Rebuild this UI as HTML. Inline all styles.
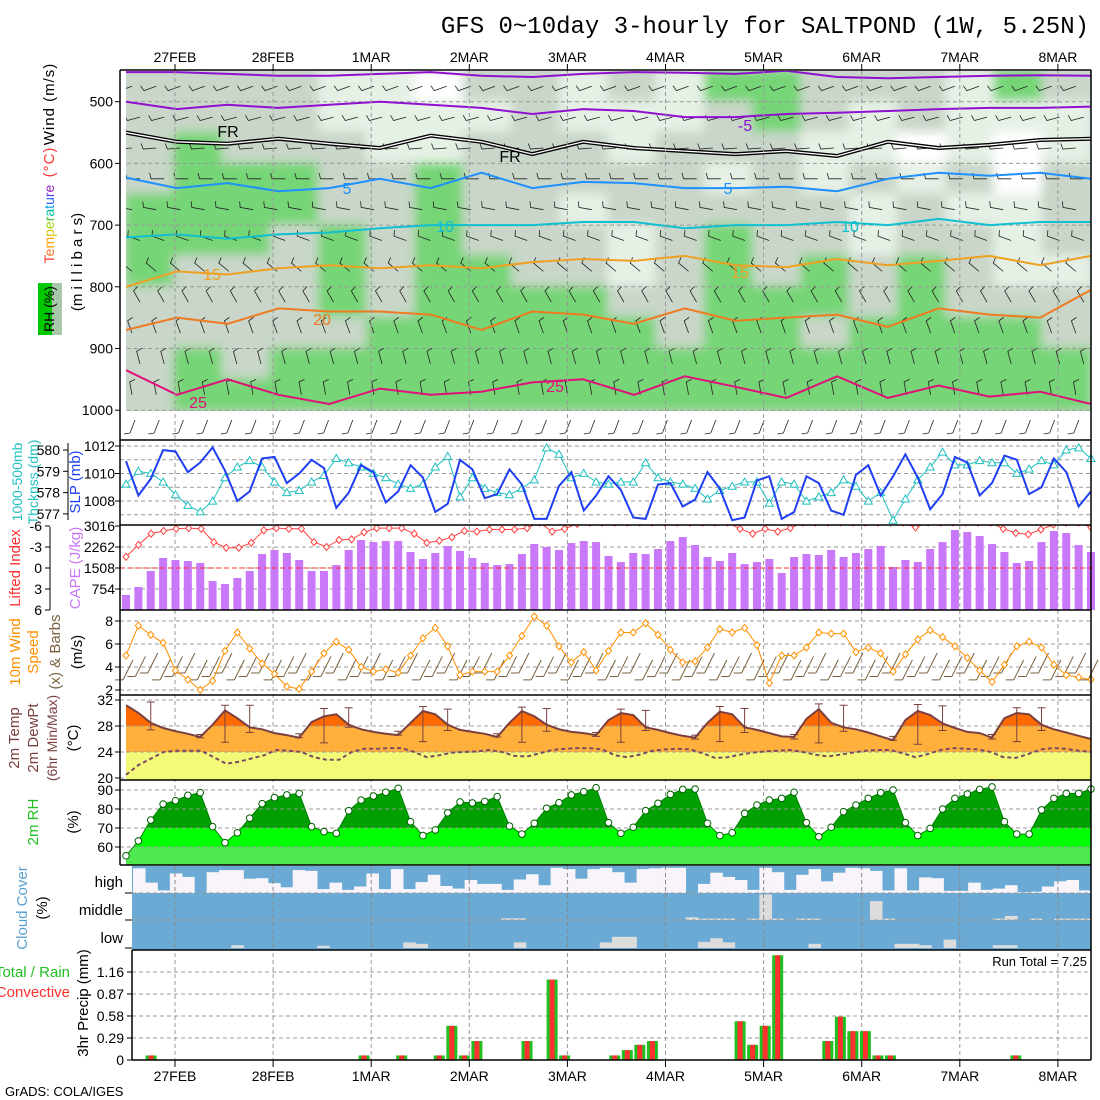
<!DOCTYPE html>
<html><head><meta charset="utf-8"><style>
html,body{margin:0;padding:0;background:#fff;}
svg{display:block;font-family:"Liberation Sans",sans-serif;}
</style></head><body>
<svg id="c" width="1100" height="1100" viewBox="0 0 1100 1100" xmlns="http://www.w3.org/2000/svg">
<defs id="defs">
<clipPath id="topClip"><rect x="126" y="71" width="965" height="340"/></clipPath>
<clipPath id="liClip"><rect x="120" y="525" width="971" height="85"/></clipPath>
<filter id="blur" x="-5%" y="-5%" width="110%" height="110%"><feGaussianBlur stdDeviation="5"/></filter>
</defs>
<rect width="1100" height="1100" fill="#fff"/>
<text x="1089" y="33" text-anchor="end" font-family="Liberation Mono, monospace" font-size="24">GFS 0~10day 3-hourly for SALTPOND (1W, 5.25N)</text>
<g id="g"></g>
</svg>
<script>
// ---------- data ----------
const dateLabels=["27FEB","28FEB","1MAR","2MAR","3MAR","4MAR","5MAR","6MAR","7MAR","8MAR"];
const pressTicks=[500,600,700,800,900,1000];
const rhLevels=[475,525,575,625,675,725,775,825,875,925,975];
const rhGrid=[
[2,2,2,2,1,1,0,2,2,1,2,1,3,3,2,2,2,1,3,2],
[2,2,2,2,1,1,1,1,2,1,1,1,2,3,2,1,2,1,1,1],
[2,3,2,2,2,1,1,2,2,2,1,2,2,2,1,1,0,1,0,1],
[2,3,3,3,2,2,3,2,2,2,2,2,1,2,1,2,1,2,0,2],
[3,3,3,3,2,2,3,2,2,1,2,2,2,2,2,1,2,1,1,2],
[3,3,3,2,3,2,3,2,2,2,1,2,3,2,2,1,2,2,1,2],
[3,2,2,2,3,2,3,3,2,2,1,2,3,2,3,2,3,2,1,1],
[2,2,2,2,3,2,3,3,3,3,2,2,3,3,3,2,3,2,2,2],
[2,2,2,2,2,3,3,3,3,3,3,2,3,3,2,3,3,3,3,2],
[2,3,2,3,3,3,3,3,3,3,3,3,3,3,3,3,3,3,3,3],
[2,3,3,3,3,3,3,3,3,3,3,3,3,3,3,3,3,3,3,3]];
const isoM10=[452,452,455,458,458,455,452,458,460,455,452,453,455,450,460,462,460,458,457,458];
const isoM5=[500,512,505,510,505,500,505,510,520,512,515,525,525,520,518,515,512,510,510,508];
const iso0=[550,565,568,560,568,575,555,565,585,565,575,580,585,580,588,565,575,570,562,560];
const iso5=[623,640,632,645,640,625,640,615,640,630,632,640,640,638,645,625,615,620,615,625];
const iso10=[720,715,722,715,712,705,700,700,700,695,695,705,700,700,695,700,690,700,695,695];
const iso15=[800,775,780,770,765,770,765,770,760,755,758,750,765,768,755,765,758,750,765,750];
const iso20=[870,850,860,835,840,840,845,870,840,845,860,835,855,850,845,865,835,845,850,805];
const iso25=[935,975,950,975,990,965,975,970,955,950,975,945,962,980,945,980,960,978,970,990];
const slp=[1010.9,1008.4,1009.6,1011.7,1011.6,1010.1,1010.8,1011.9,1010.2,1008.0,1008.7,1011.1,1011.2,1009.3,1010.0,1011.0,1010.4,1007.5,1008.6,1010.6,1010.1,1007.9,1008.7,
1010.6,1009.7,1007.2,1007.8,1011.0,1010.3,1008.2,1008.5,1010.3,1009.2,1006.7,1006.7,1009.1,1010.1,1007.3,1008.4,1009.8,1008.8,1006.8,1006.7,1009.2,1009.3,1007.6,1008.1,1010.1,1008.9,1006.6,1006.8,1009.5,1009.8,1006.7,1007.2,1009.8,1009.3,1007.3,1007.0,1009.9,1010.6,1008.4,1009.8,1011.4,1009.7,1007.4,1008.5,1011.2,1010.8,1008.4,1009.3,1011.3,1011.0,1008.5,1009.0,1011.1,1010.1,1007.6,1008.7];
const thick=[578.4,579.0,578.9,578.5,577.9,577.4,577.1,577.6,578.7,579.2,579.5,579.2,578.5,578.0,578.1,578.5,578.8,579.6,579.4,579.2,578.9,578.7,578.4,
578.2,578.4,579.2,579.7,577.8,578.7,578.2,578.0,577.9,578.2,578.6,580.1,579.8,578.7,578.9,578.5,578.4,578.5,578.5,579.4,578.7,578.5,578.4,578.2,577.7,578.1,578.3,578.5,578.5,577.5,578.5,578.4,577.6,577.8,578.0,578.6,578.3,577.6,578.0,576.7,577.7,578.6,579.2,579.9,579.3,579.3,579.5,579.4,579.4,578.9,579.1,579.5,579.3,580.0,580.1,579.6];
const cape=[538,826,1400,1867,1795,1760,1690,1040,934,1150,1400,2010,2155,2047,1795,1400,1400,1616,2155,2513,2440,2480,2480,
2083,1830,2047,2300,2120,1867,1690,1616,1650,2010,2370,2262,2155,2405,2477,2440,1940,1723,2047,2010,2190,2477,2620,2333,1903,1760,2047,1650,1723,1830,1330,1903,2010,1975,2155,1903,2047,2190,2300,1544,1795,1723,2190,2440,2872,2800,2655,2370,2083,1690,1760,2440,2836,2765,2333,2083];
const liftedIdx=[-1.6,-3.3,-4.9,-5.3,-5.6,-5.7,-5.6,-3.7,-2.9,-2.9,-3.6,-5.4,-5.7,-5.6,-5.6,-3.7,-3.0,-4.0,-4.1,-5.1,-5.7,-5.7,-5.7,
-4.9,-3.6,-3.9,-4.4,-5.3,-5.2,-5.5,-5.5,-5.5,-5.7,-6.5,-5.2,-5.6,-6.3,-6.5,-6.5,-6.5,-6.5,-6.5,-6.5,-6.5,-6.5,-6.5,-6.5,-6.5,-6.5,-5.6,-4.9,-5.6,-5.2,-5.7,-6.5,-6.5,-6.5,-6.5,-6.5,-6.5,-6.5,-6.5,-6.5,-5.8,-6.5,-6.5,-6.5,-6.5,-6.5,-6.5,-5.6,-5.0,-4.8,-5.5,-6.2,-6.5,-6.5,-5.8];
const wspd=[5.0,7.6,6.8,6.1,3.7,2.9,2.0,2.8,5.4,7.0,5.6,4.3,3.4,2.3,2.1,3.6,5.2,6.2,5.5,4.0,3.6,3.8,3.5,
5.0,6.5,7.4,5.8,3.3,3.6,3.6,3.6,5.0,6.7,8.4,7.6,5.8,4.4,5.3,3.7,5.4,7.0,7.0,7.8,6.8,5.5,4.4,4.5,5.7,7.3,7.0,7.4,5.9,2.6,5.0,5.0,5.7,7.0,6.9,6.9,5.3,5.7,5.2,3.6,5.1,6.4,7.2,6.6,5.8,4.8,3.7,2.7,4.2,5.8,6.2,5.7,4.2,3.3,3.1,2.9];
const temp2m=[31.2,30.0,28.5,27.7,27.2,26.8,26.3,28.2,30.4,29.2,27.8,27.5,26.9,26.6,26.2,28.6,29.5,29.8,28.2,27.5,27.1,26.8,26.6,
28.5,30.3,29.8,28.2,27.4,27.1,26.8,26.3,28.5,30.3,29.5,28.2,27.5,27.1,26.9,26.6,28.9,30.0,29.7,27.8,27.4,26.9,26.5,26.2,28.5,30.2,29.8,27.8,27.4,26.9,26.4,26.3,29.1,30.6,28.5,27.8,27.5,27.0,26.4,25.8,28.9,30.3,29.7,28.4,27.7,27.1,26.9,26.2,29.2,30.0,29.8,28.2,27.5,27.0,26.5,26.0];
const dewpt=[20.5,22,23,24,24.2,24.2,24.2,23.2,22.2,22.5,23,23.5,24.3,24.2,24,23.2,22.8,22.8,24,24.5,24.5,24.6,24.6,
24,23.2,23.5,23.9,24,24.1,24.3,24.0,23.4,23.3,23.8,24.3,24.5,24.6,24.6,24.4,23.5,23.2,23.6,24.2,24.4,24.5,24.4,23.8,23.1,23.2,23.6,23.9,24.1,24.2,24.3,24.0,23.6,23.3,23.6,23.9,24.2,24.3,24.3,23.8,23.2,23.7,24.3,24.6,24.5,24.4,24.0,23.2,23.1,23.7,24.4,24.6,24.5,24.2,24.0];
const errIdx=[2,6,8,10,14,16,18,22,24,26,30,32,34,38,40,42,46,48,50,54,56,58,62,64,66,70,72,74];
const errHi=[31.7,26.7,31.2,31.2,26.8,30.7,30.8,27.2,31.0,30.6,26.8,30.9,30.7,27.0,30.6,30.4,26.6,31.0,30.7,26.7,31.4,31.2,26.4,31.3,31.1,26.7,30.8,30.8];
const errLo=[27.4,26.2,25.5,27.0,26.2,25.4,27.8,26.6,25.6,27.3,26.3,25.5,27.2,26.4,25.5,27.3,26.0,25.6,27.0,26.0,25.4,27.2,25.8,25.2,27.3,26.0,25.6,27.3];
const rh2m=[55.4,63.2,74.2,82.6,84.4,87.2,88.6,70.7,62.3,67.5,75.2,82.8,86,87.4,88.2,70.7,68.1,67.2,79.1,84.7,86.8,88.8,90.9,
73.3,66,69,78,83.7,83.2,84,86.5,71,66.8,72.5,80.4,83.3,87.4,89.1,91.2,72.8,67.2,70.4,79.1,83,87.7,90.3,90.5,72.5,66,67.5,77.7,82.1,84.7,85.6,88.8,72.8,65.4,70.4,78.6,82.1,85.6,88.6,90,72.8,66,69.8,80,85.6,87.9,90.3,91.6,73.3,66.8,66.8,79.5,85.6,88.2,88.2,90.5];
const cloudHigh=[95,40,10,75,62,0,80,88,88,55,57,38,22,88,85,15,40,12,25,75,15,92,
15,42,70,27,17,50,35,35,12,52,72,30,97,92,55,92,97,80,40,92,95,97,97,0,35,78,62,50,12,97,80,12,70,92,45,78,97,95,85,10,95,10,60,57,8,8,40,12,17,30,3,5,25,45,50,10];
const cloudMid=[0,0,0,0,0,0,0,0,0,0,0,0,0,0,0,0,0,0,0,0,0,0,0,0,0,0,0,0,0,0,6,6,0,0,0,0,0,0,0,0,0,0,0,0,0,10,5,5,5,0,5,95,5,0,5,5,0,0,0,0,70,5,0,0,0,0,0,0,0,0,5,15,0,5,0,5,5,5];
const cloudLow=[0,0,0,0,0,0,0,0,10,0,0,0,0,0,0,8,0,0,0,0,0,0,20,15,0,0,0,0,0,0,0,20,0,0,0,0,0,0,20,40,40,0,0,0,0,0,22,35,20,0,0,0,0,0,0,15,0,0,0,0,0,0,15,15,10,0,30,0,0,0,10,10,0,0,0,0,0,0];
const precip=[0,0,0.06,0,0,0,0,0,0,0,0,0,0,0,0,0,0,0,0,0.06,0,0,0.06,0,0,0.06,0.45,0.06,0.25,0,0,0,0.25,0,1.06,0.06,0,0,0,0.06,0.13,0.2,0.25,0,0,0,0,0,0,0.51,0.2,0.45,1.38,0,0,0,0.25,0.57,0.38,0.38,0.06,0.06,0,0,0,0,0,0,0,0,0,0.06,0,0,0,0,0,0];
const slpTicks=[1012,1010,1008];
const thickTicks=[580,579,578,577];
const capeTicks=[3016,2262,1508,754];
const liTicks=[-6,-3,0,3,6];
const windTicks=[8,6,4,2];
const tempTicks=[32,28,24,20];
const rhTicks=[90,80,70,60];
const precipTicks=[1.16,0.87,0.58,0.29,0];
const barbRowAngle=[200,195,185,180,170,160,140,120,110,105,100,100];

// ---------- helpers ----------
const NS="http://www.w3.org/2000/svg";
const G=document.getElementById('g');
const DEFS=document.getElementById('defs');
function el(tag,attrs,parent){const e=document.createElementNS(NS,tag);for(const k in attrs)e.setAttribute(k,attrs[k]);(parent||G).appendChild(e);return e;}
const XL=126,XR=1091;
function X(i,n){return XL+i*(XR-XL)/(n-1);}
const yP=p=>101.7+(p-500)*0.617;
const ySLP=v=>446+(1012-v)*13.75;
const yThk=v=>450+(580-v)*21.3;
const yCAPE=v=>610-v/3016*84;
const yLI=v=>568+v*7;
const yW=v=>621+(8-v)*11.5;
const yT=v=>700+(32-v)*6.5;
const yRH=v=>790+(90-v)*1.9;
const yPr=v=>1060-v*75.9;
const dayX=k=>175+k*98.1;
function pathOf(arr,fy){return arr.map((v,i)=>(i?'L':'M')+X(i,arr.length).toFixed(1)+','+fy(v).toFixed(1)).join('');}
function txt(s,x,y,attrs,parent){const t=el('text',Object.assign({x:x,y:y},attrs||{}),parent);t.textContent=s;return t;}
function rtxt(s,x,y,attrs,parent){const t=el('text',Object.assign({x:0,y:0,transform:'translate('+x+','+y+') rotate(-90)','text-anchor':'middle'},attrs||{}),parent);t.textContent=s;return t;}

// ---------- top panel ----------
const topG=el('g',{'clip-path':'url(#topClip)'});


const rhCol=['#ffffff','#e6f1e6','#c9d6c9','#76d576'];
const blurG=el('g',{filter:'url(#blur)'},topG);
el('rect',{x:100,y:60,width:1020,height:370,fill:'#c9d6c9'},blurG);
const nc=rhGrid[0].length, cw=(XR-XL)/nc;
rhGrid.forEach((row,r)=>{row.forEach((v,c)=>{
  const y0=yP(rhLevels[r]-25), y1=yP(rhLevels[r]+25);
  const rc=el('rect',{x:XL+c*cw-1,y:y0-1,width:cw+2,height:y1-y0+2,fill:rhCol[v]},blurG);
  
  
});});
pressTicks.forEach(p=>{el('line',{x1:120,x2:XR,y1:yP(p),y2:yP(p),stroke:'#999','stroke-dasharray':'4,3','stroke-width':1},topG);});
for(let r=0;r<barbRowAngle.length;r++){
  const p=475+r*50; if(p>1000)break;
  const y=yP(p);
  for(let c=0;c<40;c++){
    const x=132+c*24.2+(r%2)*8;
    const a=barbRowAngle[r]*Math.PI/180;
    const dx=Math.cos(a)*13, dy=-Math.sin(a)*13;
    const b=el('path',{d:'M'+x+','+y+'l'+dx.toFixed(1)+','+dy.toFixed(1)+'l'+(Math.cos(a-1.3)*6).toFixed(1)+','+(-Math.sin(a-1.3)*6).toFixed(1),stroke:'#222',fill:'none','stroke-width':0.8},topG);
    
    
  }
}
function iso(arr,color,w,name){
  const d=arr.map((v,i)=>(i?'L':'M')+X(i,arr.length).toFixed(1)+','+yP(v).toFixed(1)).join('');
  const p=el('path',{d:d,stroke:color,'stroke-width':w,fill:'none'},topG);
  
  
  return d;
}
iso(isoM10,'#9010d0',2,'isotherm-minus10');
iso(isoM5,'#9010d0',2,'isotherm-minus5');
const d0=iso(iso0,'#000',4,'freezing-level');
el('path',{d:d0,stroke:'#fff','stroke-width':1.3,fill:'none'},topG);
iso(iso5,'#1e90ff',2,'isotherm-5');
iso(iso10,'#10c0d0',2,'isotherm-10');
iso(iso15,'#f0a020',2,'isotherm-15');
iso(iso20,'#f07a20',2,'isotherm-20');
iso(iso25,'#e0107a',2,'isotherm-25');
[['-5',745,131,'#9010d0'],['FR',228,137,'#000'],['FR',510,162,'#000'],['5',347,194,'#1e90ff'],['5',728,194,'#1e90ff'],['10',445,232,'#10c0d0'],['10',850,232,'#10c0d0'],['15',212,280,'#f0a020'],['15',740,278,'#f0a020'],['20',322,325,'#f07a20'],['25',198,408,'#e0107a'],['25',555,392,'#e0107a']].forEach(l=>{
  const t=txt(l[0],l[1],l[2],{fill:l[3],'font-size':16,'text-anchor':'middle'},topG);
  
  
});
for(let c=0;c<40;c++){
  const x=130+c*24.2, y=425;
  el('path',{d:'M'+x+','+(y+8)+'l5,-13 M'+x+','+(y+8)+'l-6,1',stroke:'#222','stroke-width':0.8,fill:'none'});
}

// ---------- vertical day lines ----------
dateLabels.forEach((d,k)=>{
  const x=dayX(k);
  el('line',{x1:x,x2:x,y1:71,y2:1060,stroke:'#999','stroke-dasharray':'4,3'});
  el('line',{x1:x,x2:x,y1:64,y2:71,stroke:'#000'});
  el('line',{x1:x,x2:x,y1:1060,y2:1067,stroke:'#000'});
  const t1=txt(d,x,62,{'text-anchor':'middle','font-size':14});
  
  
  const t2=txt(d,x,1081,{'text-anchor':'middle','font-size':14});
  
  
});
function hgrid(vals,fy){vals.forEach(v=>el('line',{x1:120,x2:XR,y1:fy(v),y2:fy(v),stroke:'#999','stroke-dasharray':'4,3'}));}
hgrid(slpTicks,ySLP);hgrid([1011,1009,1007],ySLP);
hgrid([2262,1508,754],yCAPE);
hgrid(windTicks,yW);
hgrid(tempTicks,yT);
hgrid(rhTicks,yRH);
precipTicks.forEach(v=>{if(v>0)el('line',{x1:132,x2:XR,y1:yPr(v),y2:yPr(v),stroke:'#999','stroke-dasharray':'4,3'});});

// ---------- SLP / thickness ----------
const thkP=el('path',{d:pathOf(thick,yThk),stroke:'#20c0c0','stroke-width':1,fill:'none'});


thick.forEach((v,i)=>{const x=X(i,thick.length),y=yThk(v);
  const m=el('path',{d:'M'+x+','+(y-4)+'L'+(x+4)+','+(y+3)+'L'+(x-4)+','+(y+3)+'Z',fill:'#fff',stroke:'#20c0c0'});
  
  });
const slpP=el('path',{d:pathOf(slp,ySLP),stroke:'#1f3ff0','stroke-width':2,fill:'none'});



// ---------- CAPE / LI ----------
cape.forEach((v,i)=>{const x=X(i,cape.length);
  const b=el('rect',{x:x-4,y:yCAPE(v),width:8,height:610-yCAPE(v),fill:'#c878f8'});
  
  });
el('line',{x1:120,x2:XR,y1:568,y2:568,stroke:'#ff3030','stroke-dasharray':'5,3'});
const liG=el('g',{'clip-path':'url(#liClip)'});
const liP=el('path',{d:pathOf(liftedIdx,yLI),stroke:'#ff4040','stroke-width':1,fill:'none'},liG);


liftedIdx.forEach((v,i)=>{const x=X(i,liftedIdx.length),y=yLI(v);
  const m=el('path',{d:'M'+x+','+(y-3.5)+'l3,3.5l-3,3.5l-3,-3.5Z',fill:'#fff',stroke:'#ff4040'},liG);
  
  });

// ---------- 10m wind ----------
wspd.forEach((v,i)=>{const x=X(i,wspd.length);
  const y=yW(3.4+(i%3)*0.3);
  const b=el('path',{d:'M'+(x-3)+','+(y+6)+'l10,-20 M'+(x-3)+','+(y+6)+'l-8,0',stroke:'#7a6040','stroke-width':1,fill:'none'});
  
  });
const wP=el('path',{d:pathOf(wspd,yW),stroke:'#ff9000','stroke-width':1,fill:'none'});


wspd.forEach((v,i)=>{const x=X(i,wspd.length),y=yW(v);
  const m=el('path',{d:'M'+x+','+(y-3.5)+'l3,3.5l-3,3.5l-3,-3.5Z',fill:'#fff',stroke:'#ff9000'});
  
  });

// ---------- temperature ----------
const tArea=pathOf(temp2m,yT)+'L'+XR+',780L'+XL+',780Z';
const tClip=el('clipPath',{id:'tClip'},DEFS);
el('path',{d:tArea},tClip);
const tg=el('g',{'clip-path':'url(#tClip)'});


el('rect',{x:XL,y:695,width:XR-XL,height:yT(28)-695,fill:'#ff6a00'},tg);
el('rect',{x:XL,y:yT(28),width:XR-XL,height:yT(24)-yT(28),fill:'#ffb03c'},tg);
el('rect',{x:XL,y:yT(24),width:XR-XL,height:780-yT(24),fill:'#f2fa78'},tg);
[28,24].forEach(v=>el('line',{x1:XL,x2:XR,y1:yT(v),y2:yT(v),stroke:'#999','stroke-dasharray':'4,3'},tg));
const tP=el('path',{d:pathOf(temp2m,yT),stroke:'#7a4040','stroke-width':2,fill:'none'});


const dP=el('path',{d:pathOf(dewpt,yT),stroke:'#7a4a60','stroke-width':2,'stroke-dasharray':'4,3',fill:'none'});


errIdx.forEach((ix,k)=>{const x=XL+ix*(XR-XL)/(temp2m.length-1);
  const e=el('path',{d:'M'+x+','+yT(errHi[k])+'V'+yT(errLo[k])+'M'+(x-4)+','+yT(errHi[k])+'h8M'+(x-4)+','+yT(errLo[k])+'h8',stroke:'#7a4040','stroke-width':1,fill:'none'});
  
  });

// ---------- RH ----------
const rhArea=pathOf(rh2m,yRH)+'L'+XR+',865L'+XL+',865Z';
const rcl=el('clipPath',{id:'rhClip'},DEFS);
el('path',{d:rhArea},rcl);
const rg=el('g',{'clip-path':'url(#rhClip)'});


el('rect',{x:XL,y:780,width:XR-XL,height:yRH(70)-780,fill:'#00a000'},rg);
el('rect',{x:XL,y:yRH(70),width:XR-XL,height:yRH(60)-yRH(70),fill:'#00ff00'},rg);
el('rect',{x:XL,y:yRH(60),width:XR-XL,height:865-yRH(60),fill:'#50e850'},rg);
[80,70,60].forEach(v=>el('line',{x1:XL,x2:XR,y1:yRH(v),y2:yRH(v),stroke:'#999','stroke-dasharray':'4,3'},rg));
el('path',{d:pathOf(rh2m,yRH),stroke:'#008000','stroke-width':1,fill:'none'});
rh2m.forEach((v,i)=>{const c=el('circle',{cx:X(i,rh2m.length),cy:yRH(v),r:3.3,fill:'#fff',stroke:'#006000','stroke-width':1});
  
  });

// ---------- cloud ----------
const cl=el('g',{});


el('rect',{x:132,y:866,width:XR-132,height:84,fill:'#6aaad4'},cl);
const ccw=(XR-133)/cloudHigh.length;
function cloudRow(arr,yTop,yBot,color,name){arr.forEach((v,i)=>{if(v<=0)return;const h=(yBot-yTop)*v/100;
  const r=el('rect',{x:133+i*ccw,y:yBot-h,width:ccw+0.3,height:h,fill:color},cl);
  
  });}
cloudRow(cloudHigh,867,893,'#f8f4fa','cloud-high-bar');
cloudRow(cloudMid,893,920,'#dcdcdc','cloud-mid-bar');
cloudRow(cloudLow,920,948,'#dcdcdc','cloud-low-bar');
[893,920].forEach(y=>el('line',{x1:132,x2:XR,y1:y,y2:y,stroke:'#999','stroke-dasharray':'4,3'}));
[893,920,948].forEach(y=>el('line',{x1:125,x2:132,y1:y,y2:y,stroke:'#000'}));
dateLabels.forEach((d,k)=>el('line',{x1:dayX(k),x2:dayX(k),y1:866,y2:950,stroke:'#888','stroke-dasharray':'4,3'}));

// ---------- precip ----------
precip.forEach((v,i)=>{if(v<=0)return;const x=X(i,precip.length);
  const g=el('rect',{x:x-5.5,y:yPr(v),width:11,height:1060-yPr(v),fill:'#20c020'});
  
  
  const r=el('rect',{x:x-2.5,y:yPr(v),width:5,height:1060-yPr(v),fill:'#ff3030'});
  
  });
txt('Run Total = 7.25',1087,966,{'text-anchor':'end','font-size':13});

// ---------- frames ----------
const fr='#000';
[70,440,525,610,695,780,865].forEach(y=>el('line',{x1:120,x2:XR,y1:y,y2:y,stroke:fr,'stroke-width':1.5}));
el('line',{x1:132,x2:XR,y1:950,y2:950,stroke:fr,'stroke-width':1.5});
el('line',{x1:132,x2:XR,y1:1060,y2:1060,stroke:fr,'stroke-width':1.5});
el('line',{x1:120,x2:120,y1:70,y2:865,stroke:fr,'stroke-width':1.5});
el('line',{x1:132,x2:132,y1:950,y2:1060,stroke:fr,'stroke-width':1.5});
el('line',{x1:XR,x2:XR,y1:70,y2:1060,stroke:fr,'stroke-width':1.5});

// ---------- axis ticks/labels ----------
function ticks(vals,fy,xr,color,xline){vals.forEach(v=>{const y=fy(v);
  el('line',{x1:xline-5,x2:xline,y1:y,y2:y,stroke:'#000'});
  const t=txt(String(v),xr,y+5,{'text-anchor':'end','font-size':14,fill:color});
  
  });}
ticks(pressTicks,yP,113,'#000',120);
ticks(slpTicks,ySLP,115,'#000',120);
el('line',{x1:68,x2:68,y1:443,y2:520,stroke:'#000'});
ticks(thickTicks,yThk,60,'#000',68);
ticks(capeTicks,yCAPE,115,'#000',120);
el('line',{x1:50,x2:50,y1:527,y2:610,stroke:'#000'});
ticks(liTicks,yLI,42,'#000',50);
ticks(windTicks,yW,113,'#000',120);
ticks(tempTicks,yT,113,'#000',120);
ticks(rhTicks,yRH,113,'#000',120);
ticks(precipTicks,yPr,124,'#000',132);
txt('high',123,887,{'text-anchor':'end','font-size':15});
txt('middle',123,915,{'text-anchor':'end','font-size':15});
txt('low',123,943,{'text-anchor':'end','font-size':15});

// ---------- rotated axis titles ----------
const fs={'font-size':15,'letter-spacing':'1'};
rtxt('Wind (m/s)',54,104,Object.assign({fill:'#000'},fs));
rtxt('(°C)',54,162,Object.assign({fill:'#ff3030'},fs));
const tt=rtxt('',54,224,{'font-size':14});
const tcols=['#ff3030','#ff7020','#ffa000','#d8c800','#a0d000','#40c040','#00c0a0','#00a0e0','#2060ff','#6040e0','#9020c0'];
'Temperature'.split('').forEach((ch,k)=>{const s=document.createElementNS(NS,'tspan');s.setAttribute('fill',tcols[k]);s.textContent=ch;tt.appendChild(s);});
el('rect',{x:38,y:283,width:14,height:52,fill:'#00c800'});
el('rect',{x:52,y:283,width:10,height:52,fill:'#a8c8a8'});
rtxt('RH (%)',54,309,{'font-size':14,fill:'#000'});
rtxt('(m i l l i b a r s)',82,262,{'font-size':15});
rtxt('1000-500mb',22,482,{'font-size':14,fill:'#20c0c0'});
rtxt('Thcknss (dm)',38,482,{'font-size':14,fill:'#20c0c0'});
rtxt('SLP (mb)',80,482,{'font-size':15,fill:'#1f3ff0'});
rtxt('Lifted Index',20,568,{'font-size':15,fill:'#ff3030'});
rtxt('CAPE (J/kg)',80,568,{'font-size':15,fill:'#c878f8'});
rtxt('10m Wind',20,652,{'font-size':15,fill:'#ff9000'});
rtxt('Speed',38,652,{'font-size':15,fill:'#ff9000'});
rtxt('(x) & Barbs',60,652,{'font-size':15,fill:'#7a6040'});
rtxt('(m/s)',82,652,{'font-size':15});
rtxt('2m Temp',19,738,{'font-size':15,fill:'#7a4040'});
rtxt('2m DewPt',38,738,{'font-size':15,fill:'#7a4040'});
rtxt('(6hr Min/Max)',57,738,{'font-size':14,fill:'#7a4040'});
rtxt('(°C)',78,738,{'font-size':15});
rtxt('2m RH',38,822,{'font-size':15,fill:'#20c020'});
rtxt('(%)',78,822,{'font-size':15});
rtxt('Cloud Cover',27,908,{'font-size':15,fill:'#5aa0d0'});
rtxt('(%)',47,908,{'font-size':15});
rtxt('3hr Precip (mm)',88,1003,{'font-size':15});
txt('Total / Rain',70,977,{'text-anchor':'end','font-size':15,fill:'#20c020'});
txt('Convective',70,997,{'text-anchor':'end','font-size':15,fill:'#ff3030'});
txt('GrADS: COLA/IGES',5,1096,{'font-size':13});
</script>
</body></html>
